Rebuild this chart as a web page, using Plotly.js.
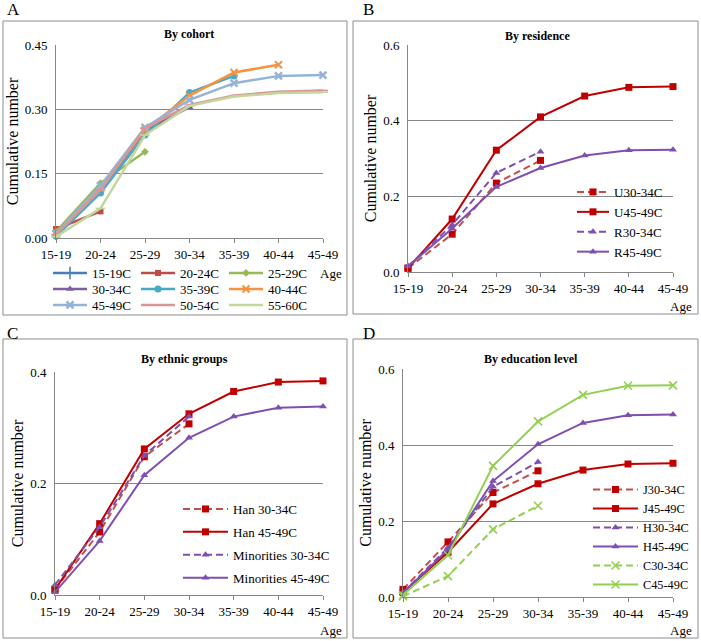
<!DOCTYPE html>
<html>
<head>
<meta charset="utf-8">
<script src="https://cdn.plot.ly/plotly-3.0.1.min.js"></script>
<style>html,body{margin:0;padding:0;background:#fff;}#chart{width:701px;height:641px;}</style>
</head>
<body>
<div id="chart"></div>
<script>
// ---------- DATA ----------
const ages = ['15-19','20-24','25-29','30-34','35-39','40-44','45-49'];

// Panel A: by cohort
const cohortNames = ['15-19C','20-24C','25-29C','30-34C','35-39C','40-44C','45-49C','50-54C','55-60C'];
const c15_19 = [0.010];
const c20_24 = [0.021, 0.062];
const c25_29 = [0.015, 0.128, 0.201];
const c30_34 = [0.010, 0.112, 0.250, 0.305];
const c35_39 = [0.004, 0.105, 0.240, 0.339, 0.378];
const c40_44 = [0.010, 0.116, 0.252, 0.332, 0.386, 0.404];
const c45_49 = [0.010, 0.122, 0.258, 0.322, 0.361, 0.378, 0.380];
const c50_54 = [0.008, 0.112, 0.256, 0.310, 0.332, 0.341, 0.344];
const c55_60 = [0.003, 0.069, 0.240, 0.308, 0.330, 0.338, 0.340];

// Panel B: by residence
const resNames = ['U30-34C','U45-49C','R30-34C','R45-49C'];
const u30_34 = [0.010, 0.100, 0.235, 0.295];
const u45_49 = [0.010, 0.140, 0.322, 0.410, 0.465, 0.488, 0.490];
const r30_34 = [0.015, 0.125, 0.262, 0.318];
const r45_49 = [0.015, 0.115, 0.225, 0.275, 0.308, 0.322, 0.323];

// Panel C: by ethnic groups
const ethNames = ['Han 30-34C','Han 45-49C','Minorities 30-34C','Minorities 45-49C'];
const han30_34 = [0.010, 0.113, 0.248, 0.307];
const han45_49 = [0.010, 0.128, 0.262, 0.325, 0.365, 0.382, 0.384];
const min30_34 = [0.018, 0.122, 0.250, 0.320];
const min45_49 = [0.005, 0.097, 0.215, 0.282, 0.320, 0.336, 0.338];

// Panel D: by education level
const eduNames = ['J30-34C','J45-49C','H30-34C','H45-49C','C30-34C','C45-49C'];
const j30_34 = [0.020, 0.145, 0.275, 0.332];
const j45_49 = [0.012, 0.118, 0.245, 0.298, 0.334, 0.350, 0.352];
const h30_34 = [0.012, 0.130, 0.290, 0.355];
const h45_49 = [0.010, 0.125, 0.305, 0.402, 0.458, 0.478, 0.480];
const col30_34 = [0.002, 0.055, 0.178, 0.240];
const col45_49 = [0.005, 0.110, 0.345, 0.462, 0.532, 0.556, 0.557];

const panelTitles = ['By cohort','By residence','By ethnic groups','By education level'];
const panelLetters = ['A','B','C','D'];
const yTitle = 'Cumulative number';
const xLabel = 'Age';

// ---------- STYLE ----------
const W = 701, H = 641;
const SERIF = 'Liberation Serif';
const GRID = '#868686';
const px = v => v / W;
const py = v => 1 - v / H;

function tr(name, vals, xa, ya, legend, color, opts) {
  opts = opts || {};
  const sym = opts.symbol || 'square';
  const thin = /thin|line-|open/.test(sym);
  const mk = {symbol: sym, size: opts.msize || 7, color: opts.mcolor || color};
  if (thin) mk.line = {color: opts.mcolor || color, width: opts.mlw || 1.6};
  else mk.line = {width: 0};
  return {
    type: 'scatter', mode: 'lines+markers', name: name,
    x: ages.slice(0, vals.length), y: vals,
    xaxis: xa, yaxis: ya, legend: legend, legendgroup: name,
    line: {color: color, width: opts.lw || 2, dash: opts.dash || 'solid'},
    marker: mk, cliponaxis: false
  };
}
const DASH = '7px,4px';
const RED = '#C00000', RED2 = '#C0504D', PUR2 = '#7F4FB0', GRN = '#92D050';

const traces = [
  // A
  tr(cohortNames[0], c15_19, 'x', 'y', 'legend', '#4A7EBB', {symbol:'line-ns-open', msize:9, lw:2.5}),
  tr(cohortNames[1], c20_24, 'x', 'y', 'legend', '#BE4B48', {symbol:'square', msize:6, lw:2.5}),
  tr(cohortNames[2], c25_29, 'x', 'y', 'legend', '#98B954', {symbol:'diamond', msize:6, lw:2.5}),
  tr(cohortNames[3], c30_34, 'x', 'y', 'legend2', '#7D60A0', {symbol:'triangle-up', msize:7, lw:2.5}),
  tr(cohortNames[4], c35_39, 'x', 'y', 'legend2', '#46AAC5', {symbol:'circle', msize:7, lw:2.5}),
  tr(cohortNames[5], c40_44, 'x', 'y', 'legend2', '#F69240', {symbol:'x-thin-open', msize:7, lw:2.5, mlw:2}),
  tr(cohortNames[6], c45_49, 'x', 'y', 'legend3', '#95B3D7', {symbol:'x-thin-open', msize:7, lw:2.5, mlw:2.5}),
  tr(cohortNames[7], c50_54, 'x', 'y', 'legend3', '#D99694', {symbol:'line-ew-open', msize:7, lw:2.5}),
  tr(cohortNames[8], c55_60, 'x', 'y', 'legend3', '#C3D69B', {symbol:'line-ew-open', msize:7, lw:2.5}),
  // B
  tr(resNames[0], u30_34, 'x2', 'y2', 'legend4', RED2, {symbol:'square', mcolor:RED, dash:DASH}),
  tr(resNames[1], u45_49, 'x2', 'y2', 'legend4', RED, {symbol:'square'}),
  tr(resNames[2], r30_34, 'x2', 'y2', 'legend4', PUR2, {symbol:'triangle-up', dash:DASH}),
  tr(resNames[3], r45_49, 'x2', 'y2', 'legend4', PUR2, {symbol:'triangle-up'}),
  // C
  tr(ethNames[0], han30_34, 'x3', 'y3', 'legend5', RED2, {symbol:'square', mcolor:RED, dash:DASH}),
  tr(ethNames[1], han45_49, 'x3', 'y3', 'legend5', RED, {symbol:'square'}),
  tr(ethNames[2], min30_34, 'x3', 'y3', 'legend5', PUR2, {symbol:'triangle-up', dash:DASH}),
  tr(ethNames[3], min45_49, 'x3', 'y3', 'legend5', PUR2, {symbol:'triangle-up'}),
  // D
  tr(eduNames[0], j30_34, 'x4', 'y4', 'legend6', RED2, {symbol:'square', mcolor:RED, dash:DASH}),
  tr(eduNames[1], j45_49, 'x4', 'y4', 'legend6', RED, {symbol:'square'}),
  tr(eduNames[2], h30_34, 'x4', 'y4', 'legend6', PUR2, {symbol:'triangle-up', dash:DASH}),
  tr(eduNames[3], h45_49, 'x4', 'y4', 'legend6', PUR2, {symbol:'triangle-up'}),
  tr(eduNames[4], col30_34, 'x4', 'y4', 'legend6', GRN, {symbol:'x-thin-open', msize:8, dash:DASH}),
  tr(eduNames[5], col45_49, 'x4', 'y4', 'legend6', GRN, {symbol:'x-thin-open', msize:8})
];

function xax(l, r, anchor) {
  return {
    domain: [px(l), px(r)], anchor: anchor, type: 'category',
    categoryarray: ages, categoryorder: 'array', range: [0, 6],
    showgrid: false, zeroline: false, showline: true, linecolor: GRID, linewidth: 1,
    ticks: 'outside', ticklen: 4, tickcolor: GRID,
    tickfont: {family: SERIF, size: 13, color: '#000'}, fixedrange: true
  };
}
function yax(t, b, anchor, max, vals, fmt) {
  return {
    domain: [py(b), py(t)], anchor: anchor, range: [0, max],
    tickmode: 'array', tickvals: vals, tickformat: fmt,
    showgrid: true, gridcolor: GRID, gridwidth: 1, zeroline: false,
    showline: true, linecolor: GRID, linewidth: 1,
    ticks: '', ticklabelstandoff: 5,
    tickfont: {family: SERIF, size: 13, color: '#000'},
    title: {text: yTitle, font: {family: SERIF, size: 16, color: '#000'}, standoff: 2},
    fixedrange: true
  };
}
function leg(x, y, extra) {
  return Object.assign({
    x: px(x), y: py(y), xanchor: 'left', yanchor: 'top',
    bgcolor: 'rgba(0,0,0,0)', borderwidth: 0,
    font: {family: SERIF, size: 13, color: '#000'}, tracegroupgap: 0
  }, extra || {});
}

const boxes = [[3,21,347,315],[353,21,698,314],[3,339,347,638],[353,339,698,638]];
const shapes = boxes.map(b => ({
  type: 'rect', xref: 'paper', yref: 'paper',
  x0: px(b[0]), x1: px(b[2]), y0: py(b[3]), y1: py(b[1]),
  line: {color: '#8C8C8C', width: 1}, fillcolor: 'rgba(0,0,0,0)', layer: 'below'
}));

const ann = [];
const letterPos = [[5,10],[361,10],[5,333],[361,333]];
const titlePos = [[189,34],[537,36],[184,359],[531,359]];
const agePos = [[344,273],[694,306],[344,630],[694,630]];
for (let i = 0; i < 4; i++) {
  ann.push({xref:'paper', yref:'paper', x:px(letterPos[i][0]), y:py(letterPos[i][1]), xanchor:'left', yanchor:'middle',
    text: panelLetters[i], showarrow:false, font:{family:SERIF, size:17, color:'#000'}});
  ann.push({xref:'paper', yref:'paper', x:px(titlePos[i][0]), y:py(titlePos[i][1]), xanchor:'center', yanchor:'middle',
    text: '<b>' + panelTitles[i] + '</b>', showarrow:false, font:{family:SERIF, size:12, color:'#000'}});
  ann.push({xref:'paper', yref:'paper', x:px(agePos[i][0]), y:py(agePos[i][1]), xanchor:'right', yanchor:'middle',
    text: xLabel, showarrow:false, font:{family:SERIF, size:13, color:'#000'}});
}

const layout = {
  width: W, height: H, margin: {l:0, r:0, t:0, b:0},
  paper_bgcolor: '#fff', plot_bgcolor: 'rgba(0,0,0,0)',
  font: {family: SERIF, color: '#000'},
  showlegend: true, hovermode: false,
  xaxis: xax(56, 323, 'y'),   yaxis: yax(45, 238, 'x', 0.45, [0, 0.15, 0.30, 0.45], '.2f'),
  xaxis2: xax(408, 673, 'y2'), yaxis2: yax(45, 272, 'x2', 0.6, [0, 0.2, 0.4, 0.6], '.1f'),
  xaxis3: xax(55, 323, 'y3'), yaxis3: yax(372, 595, 'x3', 0.4, [0, 0.2, 0.4], '.1f'),
  xaxis4: xax(403, 673, 'y4'), yaxis4: yax(369, 597, 'x4', 0.6, [0, 0.2, 0.4, 0.6], '.1f'),
  legend:  leg(48, 258, {orientation:'h', entrywidth: 39, entrywidthmode:'pixels', itemwidth: 34}),
  legend2: leg(48, 274, {orientation:'h', entrywidth: 39, entrywidthmode:'pixels', itemwidth: 34}),
  legend3: leg(48, 290, {orientation:'h', entrywidth: 39, entrywidthmode:'pixels', itemwidth: 34}),
  legend4: leg(572, 177, {itemwidth: 32}),
  legend5: leg(178, 494, {itemwidth: 45, traceorder: 'grouped', tracegroupgap: 3}),
  legend6: leg(588, 475, {itemwidth: 45, font: {family: SERIF, size: 12.3, color: '#000'}}),
  shapes: shapes, annotations: ann
};

Plotly.newPlot('chart', traces, layout, {staticPlot: true, displayModeBar: false});
</script>
</body>
</html>
